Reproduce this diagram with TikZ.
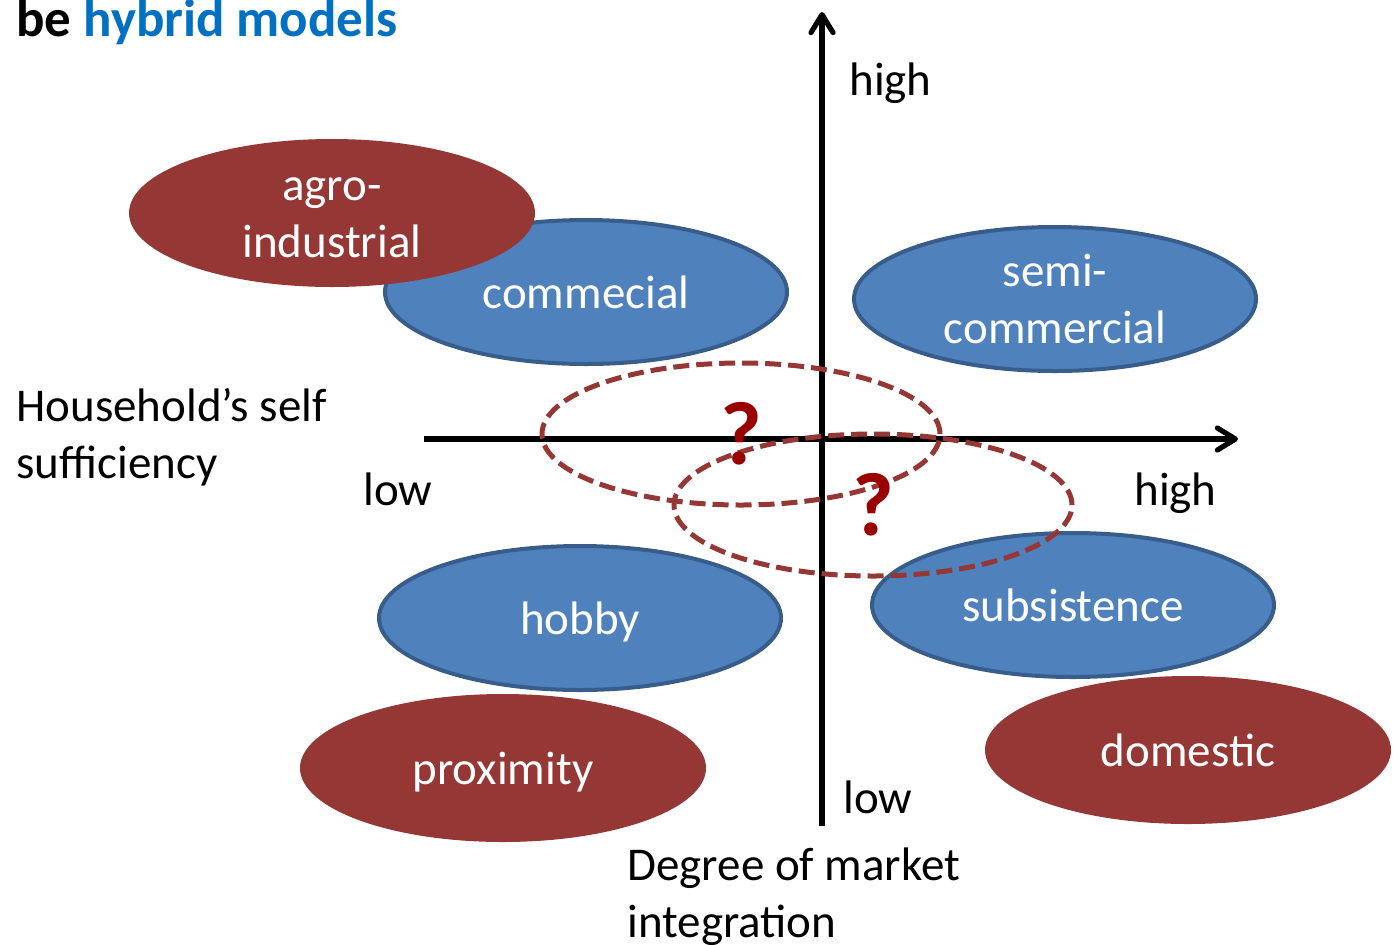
\documentclass[tikz,border=0pt]{standalone}
\usepackage{fontspec}
\setmainfont{Carlito}
\usetikzlibrary{arrows.meta,shapes.geometric}
\definecolor{fillblue}{HTML}{4F81BD}
\definecolor{bordblue}{HTML}{385D8A}
\definecolor{fillred}{HTML}{953735}
\definecolor{askred}{HTML}{990000}
\definecolor{titleblue}{HTML}{0070C0}
\tikzset{
  market/.style={
    % The shape:
    ellipse,
    % The size:
    minimum width=201pt, minimum height=72pt, inner sep=0pt,
    % The border:
    line width=2pt,
    draw=bordblue,
    % The filling:
    fill=fillblue,
    % The text:
    text=white, align=center, text depth=0pt,
    font=\fontsize{23.5}{28.5}\selectfont},
  farm/.style={
    % The shape:
    ellipse,
    minimum width=203pt, minimum height=74pt, inner sep=0pt,
    % The rest
    fill=fillred, text=white, align=center, text depth=0pt,
    font=\fontsize{23.5}{28.5}\selectfont},
  hybrid/.style={
    % The shape:
    ellipse,
    minimum width=199pt, minimum height=71pt, inner sep=0pt,
    % The rest
    draw=fillred, line width=2.5pt, dash pattern=on 8pt off 3.5pt},
  ask/.style={
    inner sep=0pt, text=askred, font=\fontsize{45}{50}\selectfont\bfseries},
  axislabel/.style={
    inner sep=0pt, anchor=base west, align=left,
    font=\fontsize{23.5}{28.5}\selectfont}
}

\begin{document}
\begin{tikzpicture}[x=0.5pt,y=-0.5pt,
                    axis/.style={line width=2.6pt,-{Straight Barb[length=9pt,width=11pt,round]}}]
  \useasboundingbox (0,0) rectangle (1397,944);

  % The title, cut off at the top:
  \node (title) [inner sep=0pt, anchor=base west, font=\fontsize{26.5}{30}\selectfont\bfseries]
    at (16,36) {be \textcolor{titleblue}{hybrid models}};

  % The blue ones:
  \node (commecial)   [market] at (586,292)  {commecial};
  \node (semi)        [market] at (1055,299) {semi-\\commercial};
  \node (hobby)       [market] at (580,618)  {hobby};
  \node (subsistence) [market] at (1073,605) {subsistence};

  % The red ones:
  \node (agro)      [farm] at (332,213)  {\vphantom{l}agro-\\industrial};
  \node (proximity) [farm] at (503,768)  {proximity};
  \node (domestic)  [farm] at (1188,750) {domestic};

  % The axes:
  \coordinate (ybot) at (822,826);
  \coordinate (ytop) at (822,12);
  \coordinate (xleft) at (424,439);
  \coordinate (xright) at (1238,439);
  \draw[axis] (ybot) -- (ytop);
  \draw[axis] (xleft) -- (xright);

  % The hybrid ones:
  \node (upper) [hybrid] at (741,434) {};
  \node (lower) [hybrid] at (873,505) {};
  \node (ask1) [ask] at (upper.center) {?};
  \node (ask2) [ask] at (lower.center) {?};

  % The labels:
  \node (yhigh) [axislabel] at (849,95)  {high};
  \node (ylow)  [axislabel] at (843,813) {low};
  \node (xlow)  [axislabel] at (363,505) {low};
  \node (xhigh) [axislabel] at (1134,505) {high};
  \node (xname) [axislabel] at (16,478)  {Household’s self\\sufficiency};
  \node (yname) [axislabel] at (627,937) {Degree of market\\integration};

\end{tikzpicture}
\end{document}
